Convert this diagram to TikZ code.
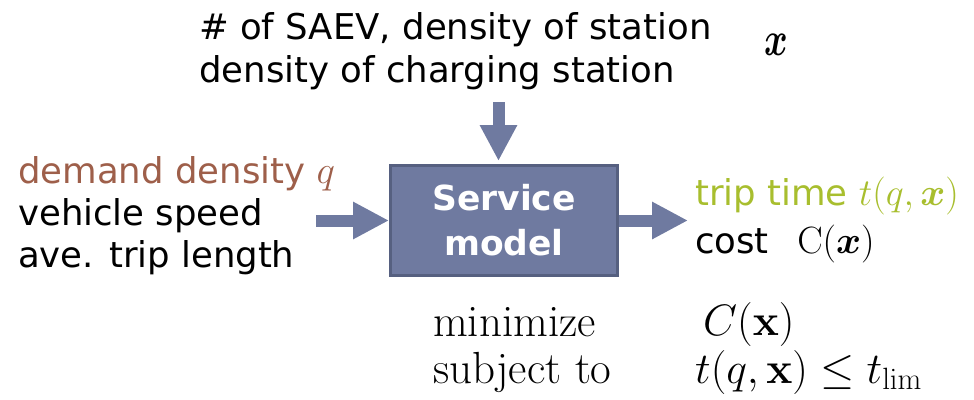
\RequirePackage{fix-cm}
\documentclass[tikz,border=0pt]{standalone}
\usepackage{amsmath}
\usepackage{graphicx}
\usepackage[no-math]{fontspec}
\setmainfont{DejaVu Sans}
\newfontfamily\lmfont{Latin Modern Roman}
\usetikzlibrary{arrows.meta}
\definecolor{boxfill}{RGB}{111,122,160}
\definecolor{boxedge}{RGB}{86,96,128}
\definecolor{brownt}{RGB}{158,95,74}
\definecolor{greent}{RGB}{168,190,46}
\tikzset{
  txt/.style={anchor=base west, inner sep=0pt, font=\fontsize{35.5}{42}\selectfont},
  lm/.style={anchor=base west, inner sep=0pt, font=\fontsize{45}{52}\lmfont},
  lmm/.style={anchor=base west, inner sep=0pt, font=\fontsize{44}{52}\lmfont},
  fat/.style={draw=boxfill, line width=12pt, -{Triangle[length=36pt,width=35pt]}},
}
\begin{document}
\begin{tikzpicture}[x=1pt,y=-1pt]
\useasboundingbox (0,0) rectangle (974,399);
% top
\node[txt] (t1) at (199,39) {\# of SAEV, density of station};
\node[txt] (t2) at (199,82) {density of charging station};
\node[anchor=center, inner sep=0pt, font=\fontsize{48}{52}\selectfont] (xv) at (776,45) {\scalebox{0.75}[1]{$\boldsymbol{x}$}};
% box
\node[draw=boxedge, fill=boxfill, line width=3pt, minimum width=227pt, minimum height=110pt,
      font=\fontsize{34.5}{45}\selectfont\bfseries, text=white, align=center] (box) at (504,220.5) {Service\\model};
% left
\node[txt, text=brownt] (l1) at (18,183) {demand density {\fontsize{39}{42}\selectfont$q$}};
\node[txt] (l2) at (18,225) {vehicle speed};
\node[txt] (l3) at (18,267) {ave. trip length};
% right
\node[txt, text=greent] (r1) at (695,205) {trip time {\fontsize{38}{42}\selectfont$t(q,\boldsymbol{x})$}};
\node[txt] (r2) at (695,253) {cost\ \ \,{\fontsize{38}{42}\selectfont$\mathrm{C}(\boldsymbol{x})$}};
% arrows
\coordinate (ls) at (316,220.5);
\coordinate (re) at (688,220.5);
\coordinate (ts) at (498.5,102);
\coordinate (te) at (498.5,161);
\draw[fat] (ls) -- (box.west);
\draw[fat] (box.east) -- (re);
\draw[fat] (ts) -- (te);
% optimisation
\node[lm] (m1) at (433,336) {minimize};
\node[lmm] (m2) at (703,335) {$C(\mathbf{x})$};
\node[lm] (s1) at (433,383) {subject to};
\node[lmm] (s2) at (695,383) {$t(q,\mathbf{x})\le t_{\mathrm{lim}}$};
\end{tikzpicture}
\end{document}
